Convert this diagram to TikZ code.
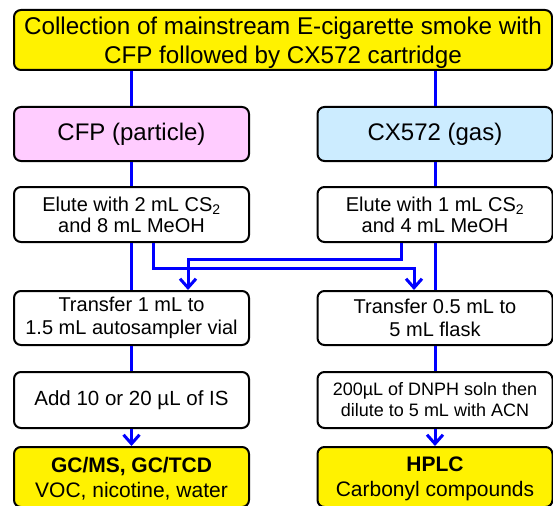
\documentclass[tikz,border=0pt]{standalone}
\usepackage{fontspec}
\setmainfont{Liberation Sans}
\usepackage{tikz}
\usetikzlibrary{arrows.meta,calc,positioning}

\definecolor{particlepink}{RGB}{255,204,255}
\definecolor{gasblue}{RGB}{204,236,255}

\begin{document}
\begin{tikzpicture}[x=1pt,y=-1pt,
  box/.style={draw=black,line width=\light,rounded corners=7pt,align=center,
    inner sep=0pt,text=black,minimum width=\colw,minimum height=54pt},
  flow/.style={draw=blue,line width=\heavy},
  flowarrow/.style={flow,-{Straight Barb[length=9pt,width=16pt,line width=\heavy]}}
]

\def \lx{131.5}
\def \rx{435}
\def \colw{235pt}

\def \heavy{3pt}
\def \light{2pt}

\useasboundingbox (0,0) rectangle (553,505);
\clip (0,0) rectangle (553,505);

% top
\node[box,fill=yellow,minimum width=538pt,minimum height=60pt,text depth=-9pt,
  font=\fontsize{24.2}{28.5}\selectfont] (collect) at (283,40)
  {Collection of mainstream E-cigarette smoke with\\CFP followed by CX572 cartridge};

% two traps
\node[box,fill=particlepink,font=\fontsize{24}{28}\selectfont] (cfp) at (\lx,134) {CFP (particle)};
\node[box,fill=gasblue,font=\fontsize{24}{28}\selectfont] (cx) at (\rx,134) {CX572 (gas)};

\node[box,minimum height=55pt,font=\fontsize{20}{21}\selectfont] (eluteL) at (\lx,214.5)
  {Elute with 2 mL CS\textsubscript{2}\\and 8 mL MeOH};
\node[box,minimum height=55pt,font=\fontsize{20}{21}\selectfont] (eluteR) at (\rx,214.5)
  {Elute with 1 mL CS\textsubscript{2}\\and 4 mL MeOH};

\node[box,font=\fontsize{20}{23}\selectfont] (transL) at (\lx,318)
  {Transfer 1 mL to\\1.5 mL autosampler vial};
\node[box,font=\fontsize{20}{23}\selectfont] (transR) at (\rx,318)
  {Transfer 0.5 mL to\\5 mL flask};

\node[box,minimum height=56pt,font=\fontsize{20.5}{24}\selectfont] (addL) at (\lx,400)
  {Add 10 or 20 µL of IS};
\node[box,minimum height=56pt,font=\fontsize{18}{21}\selectfont] (addR) at (\rx,400)
  {200µL of DNPH soln then\\dilute to 5 mL with ACN};

% detectors
\node[box,fill=yellow,minimum height=60pt,text depth=-2pt,font=\fontsize{21}{25}\selectfont] (outL) at (\lx,477)
  {\textbf{GC/MS, GC/TCD}\\VOC, nicotine, water};
\node[box,fill=yellow,minimum height=60pt,text depth=-2pt,font=\fontsize{21}{25}\selectfont] (outR) at (\rx,477)
  {\textbf{HPLC}\\Carbonyl compounds};

% straight lines
\draw[flow] (cfp.north |- collect.south) -- (cfp.north);
\draw[flow] (cx.north |- collect.south) -- (cx.north);
\draw[flow] (cfp.south) -- (eluteL.north);
\draw[flow] (cx.south) -- (eluteR.north);
\draw[flow] (eluteL.south) -- (transL.north);
\draw[flow] (eluteR.south) -- (transR.north);
\draw[flow] (transL.south) -- (addL.north);
\draw[flow] (transR.south) -- (addR.north);
\draw[flowarrow] (addL.south) -- (outL.north);
\draw[flowarrow] (addR.south) -- (outR.north);

% crossing lines
\coordinate (turnL) at (153,268);
\coordinate (turnR) at (401,259);
\coordinate (dropR) at (414,268);
\coordinate (dropL) at (188,259);

\draw[flowarrow] (eluteL.south -| turnL) -- (turnL) -- (dropR) -- (transR.north -| dropR);
\draw[flowarrow] (eluteR.south -| turnR) -- (turnR) -- (dropL) -- (transL.north -| dropL);

\end{tikzpicture}
\end{document}
